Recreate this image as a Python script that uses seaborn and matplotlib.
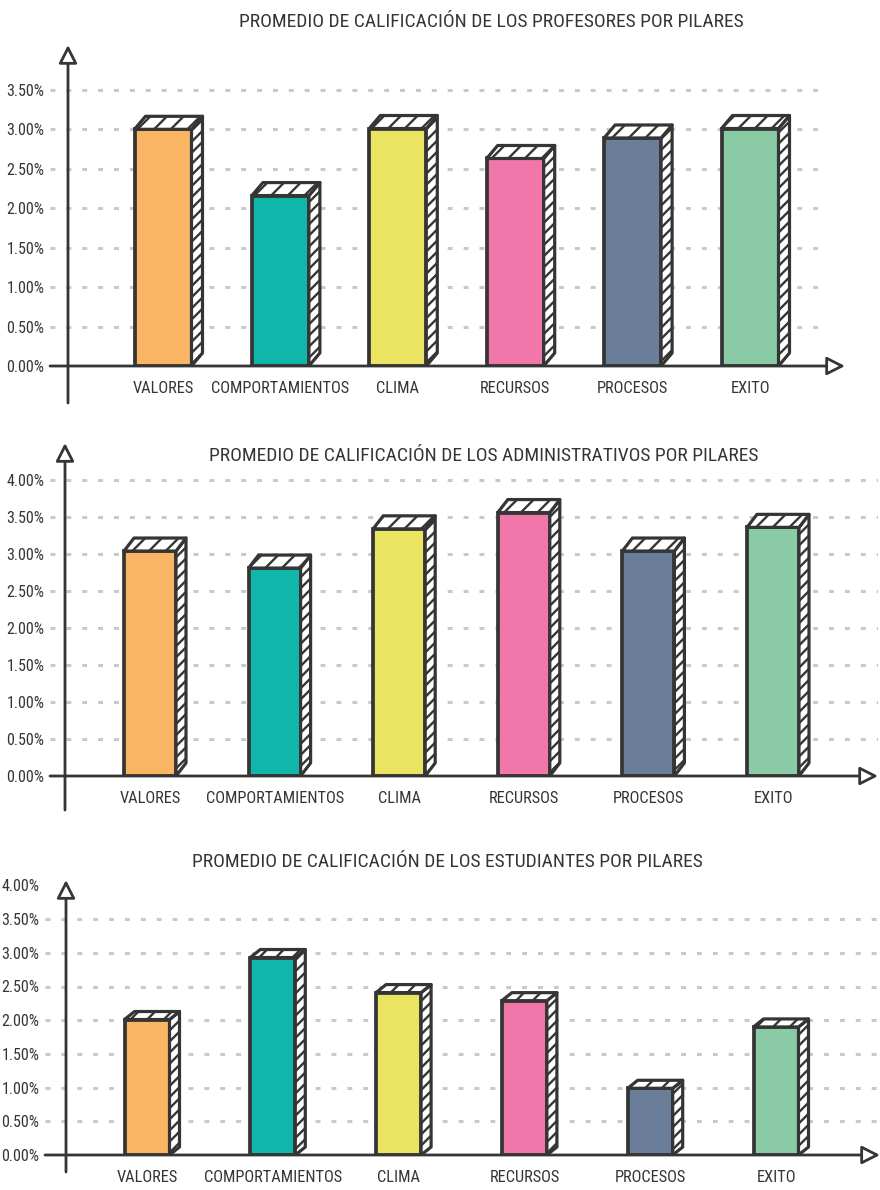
import numpy as np
import pandas as pd
import seaborn as sns
import matplotlib.pyplot as plt
from matplotlib.patches import Polygon

# ---- data -------------------------------------------------------------
pilares = ["VALORES", "COMPORTAMIENTOS", "CLIMA", "RECURSOS", "PROCESOS", "EXITO"]
profesores = [3.00, 2.16, 3.01, 2.63, 2.89, 3.01]
administrativos = [3.04, 2.81, 3.34, 3.56, 3.04, 3.36]
estudiantes = [2.01, 2.93, 2.41, 2.29, 0.99, 1.90]
colores = ["#F9B464", "#11B6AA", "#EBE462", "#F176A9", "#6A7E9A", "#8ACBA5"]
titulos = [
    "PROMEDIO DE CALIFICACIÓN DE LOS PROFESORES POR PILARES",
    "PROMEDIO DE CALIFICACIÓN DE LOS ADMINISTRATIVOS POR PILARES",
    "PROMEDIO DE CALIFICACIÓN DE LOS ESTUDIANTES POR PILARES",
]
ticks_profesores = [0.0, 0.5, 1.0, 1.5, 2.0, 2.5, 3.0, 3.5]
ticks_administrativos = [0.0, 0.5, 1.0, 1.5, 2.0, 2.5, 3.0, 3.5, 4.0]
ticks_estudiantes = [0.0, 0.5, 1.0, 1.5, 2.0, 2.5, 3.0, 3.5, 4.0]

# ---- style ------------------------------------------------------------
W, H, DPI = 880, 1190, 100
DARK = "#353535"
GRID = "#c9c9c9"
sns.set_theme(style="white")
plt.rcParams["font.family"] = ["Roboto Condensed", "Roboto", "DejaVu Sans"]
plt.rcParams["hatch.linewidth"] = 1.7
plt.rcParams["hatch.color"] = DARK

fig = plt.figure(figsize=(W / DPI, H / DPI), dpi=DPI)
fig.patch.set_facecolor("white")

# panel layout in pixels
panels = [
    dict(values=profesores, title=titulos[0], ticks=ticks_profesores,
         grid=ticks_profesores[1:], left=50, right=845, base=366, top=45,
         yaxis=68, ybottom=403, first=163, step=117.4, barw=57, ppu=78.9,
         depth=(11, 13), title_xy=(491, 22), grid_right=825),
    dict(values=administrativos, title=titulos[1], ticks=ticks_administrativos,
         grid=ticks_administrativos[1:], left=50, right=878, base=776, top=443,
         yaxis=65, ybottom=810, first=150, step=124.6, barw=52, ppu=74.0,
         depth=(10, 13), title_xy=(484, 456), grid_right=878),
    dict(values=estudiantes, title=titulos[2], ticks=ticks_estudiantes,
         grid=ticks_estudiantes[1:-1], left=45, right=880, base=1155, top=880,
         yaxis=66, ybottom=1172, first=147, step=125.8, barw=45, ppu=67.4,
         depth=(10, 8), title_xy=(447, 862), grid_right=880),
]

for p in panels:
    aw = p["right"] - p["left"]
    ah = p["base"] - p["top"]
    ax = fig.add_axes([p["left"] / W, 1 - p["base"] / H, aw / W, ah / H])
    ax.set_facecolor("none")

    df = pd.DataFrame({"pilar": pilares, "valor": p["values"]})
    sns.barplot(data=df, x="pilar", y="valor", hue="pilar", palette=colores,
                width=p["barw"] / p["step"], edgecolor=DARK, linewidth=2.7,
                saturation=1, legend=False, ax=ax, zorder=3)

    x0 = (p["left"] - p["first"]) / p["step"]
    x1 = (p["right"] - p["first"]) / p["step"]
    ymax = ah / p["ppu"]
    ax.set_xlim(x0, x1)
    ax.set_ylim(0, ymax)

    # dashed guide lines
    gx1 = (p["grid_right"] - p["left"]) / aw
    for g in p["grid"]:
        ax.axhline(g, xmin=0, xmax=gx1, color=GRID, lw=2.2,
                   dashes=(1.6, 3.6), zorder=1)

    # hatched side and top faces giving the bars depth
    dx = p["depth"][0] * (x1 - x0) / aw
    dy = p["depth"][1] * ymax / ah
    for bar in ax.patches:
        bx, bw, bh = bar.get_x(), bar.get_width(), bar.get_height()
        xr = bx + bw
        side = Polygon([(xr, 0), (xr, bh), (xr + dx, bh + dy), (xr + dx, dy)],
                       closed=True, facecolor="white", edgecolor=DARK,
                       lw=2.3, hatch="///", zorder=4, joinstyle="round")
        topf = Polygon([(bx, bh), (xr, bh), (xr + dx, bh + dy), (bx + dx, bh + dy)],
                       closed=True, facecolor="white", edgecolor=DARK,
                       lw=2.3, hatch="//", zorder=4, joinstyle="round")
        ax.add_patch(side)
        ax.add_patch(topf)

    # axes with arrow heads
    xa = (p["yaxis"] - p["left"]) / aw
    yb = -(p["ybottom"] - p["base"]) / ah
    arrow = dict(arrowstyle="-|>,head_length=0.55,head_width=0.28",
                 color=DARK, lw=2.0, fc="white", shrinkA=0, shrinkB=0,
                 mutation_scale=20)
    ax.annotate("", xy=(xa, 1.0), xytext=(xa, yb), xycoords="axes fraction",
                textcoords="axes fraction", arrowprops=arrow,
                annotation_clip=False, zorder=5)
    ax.annotate("", xy=(1.0, 0.0), xytext=(0.0, 0.0), xycoords="axes fraction",
                textcoords="axes fraction", arrowprops=arrow,
                annotation_clip=False, zorder=5)

    for s in ax.spines.values():
        s.set_visible(False)
    ax.grid(False)

    ax.set_yticks(p["ticks"])
    ax.set_yticklabels([f"{t:.2f}%" for t in p["ticks"]])
    ax.set_xticks(range(len(pilares)))
    ax.set_xticklabels(pilares)
    ax.tick_params(axis="y", length=0, pad=4, labelsize=11.5, labelcolor=DARK)
    ax.tick_params(axis="x", length=0, pad=11, labelsize=11.8, labelcolor=DARK)
    ax.set_xlabel("")
    ax.set_ylabel("")

    tx, ty = p["title_xy"]
    fig.text(tx / W, 1 - ty / H, p["title"], ha="center", va="center",
             fontsize=14, color=DARK)

fig.savefig("out.png", dpi=DPI, facecolor="white")
